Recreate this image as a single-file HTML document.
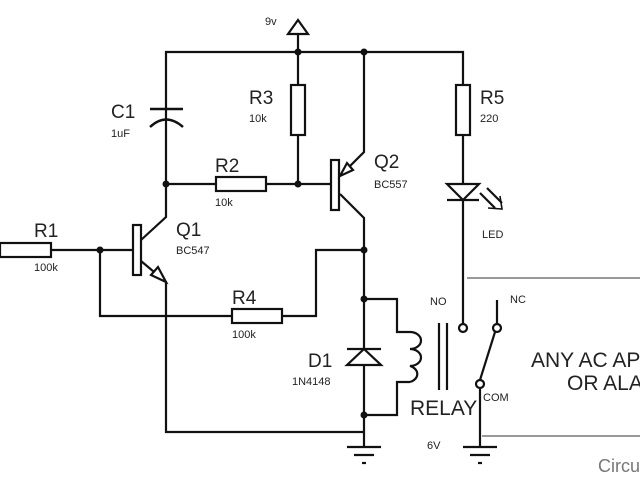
<!DOCTYPE html>
<html><head><meta charset="utf-8"><style>
body{margin:0;background:#fff}
svg{display:block}
text{font-family:"Liberation Sans",sans-serif;fill:#222}
</style></head><body>
<svg width="640" height="480" viewBox="0 0 640 480" xmlns="http://www.w3.org/2000/svg">
<g stroke="#111" stroke-width="2.2" fill="none">
<polyline points="166,184 166,52 463,52 463,85"/>
<line x1="298" y1="52" x2="298" y2="85"/>
<line x1="298" y1="135" x2="298" y2="184"/>
<line x1="298" y1="52" x2="298" y2="22"/>
<polygon points="298,20 288,34 308,34" fill="#fff"/>
<line x1="150" y1="109" x2="183" y2="109" stroke-width="2.5"/>
<path d="M150,127 Q166,112 183,127" stroke-width="2.5"/>
<rect x="291" y="85" width="14" height="50" fill="#fff"/>
<rect x="456" y="85" width="14" height="50" fill="#fff"/>
<line x1="166" y1="184" x2="215" y2="184"/>
<rect x="216" y="177" width="50" height="14" fill="#fff"/>
<line x1="266" y1="184" x2="331" y2="184"/>
<rect x="331" y="160" width="8" height="50" fill="#fff"/>
<polyline points="340,176 364,152 364,52"/>
<polygon points="340,176 347,163 353,170" fill="#fff"/>
<polyline points="340,194 364,218 364,447"/>
<line x1="463" y1="135" x2="463" y2="324"/>
<polygon points="447,184 479,184 463,200" fill="#fff"/>
<line x1="447" y1="200" x2="479" y2="200"/>
<line x1="480" y1="193" x2="495" y2="208"/>
<line x1="487" y1="188" x2="502" y2="203"/>
<polyline points="488,208 502,209 500,196" stroke-width="1.6"/>
<rect x="0" y="243" width="51" height="14" fill="#fff"/>
<line x1="51" y1="250" x2="133" y2="250"/>
<rect x="133" y="225" width="8" height="50" fill="#fff"/>
<polyline points="141,240 166,217 166,184"/>
<polyline points="141,261 166,282 166,432 364,432"/>
<polygon points="166,282 151,275 158,267" fill="#fff"/>
<polyline points="100,250 100,316 232,316"/>
<rect x="232" y="309" width="50" height="14" fill="#fff"/>
<polyline points="282,316 316,316 316,250 364,250"/>
<line x1="347" y1="349" x2="381" y2="349"/>
<polygon points="364,349 347,365 381,365" fill="#fff"/>
<polyline points="364,299 397,299 397,332 410,332"/>
<path d="M410,332 a11,8.5 0 0 1 0,17 a11,8.5 0 0 1 0,17 a11,8.5 0 0 1 0,16"/>
<polyline points="410,382 397,382 397,415 364,415"/>
<line x1="439" y1="323" x2="439" y2="390"/>
<line x1="447" y1="323" x2="447" y2="390"/>
<line x1="347" y1="447" x2="381" y2="447"/>
<line x1="354" y1="455" x2="374" y2="455"/>
<line x1="362" y1="463" x2="366" y2="463"/>
<line x1="463" y1="447" x2="497" y2="447"/>
<line x1="470" y1="455" x2="490" y2="455"/>
<line x1="478" y1="463" x2="482" y2="463"/>
<line x1="497" y1="300" x2="497" y2="324"/>
<line x1="480" y1="380" x2="495" y2="332"/>
<line x1="480" y1="388" x2="480" y2="447"/>
<circle cx="463" cy="328" r="4" fill="#fff"/>
<circle cx="497" cy="328" r="4" fill="#fff"/>
<circle cx="480" cy="384" r="4" fill="#fff"/>
</g>
<g fill="#111">
<circle cx="298" cy="52" r="3.5"/><circle cx="364" cy="52" r="3.5"/>
<circle cx="166" cy="184" r="3.5"/><circle cx="298" cy="184" r="3.5"/>
<circle cx="100" cy="250" r="3.5"/><circle cx="364" cy="250" r="3.5"/>
<circle cx="364" cy="299" r="3.5"/><circle cx="364" cy="415" r="3.5"/>
</g>
<g stroke="#999" stroke-width="2">
<line x1="467" y1="278" x2="640" y2="278"/>
<line x1="482" y1="436" x2="640" y2="436"/>
</g>
<g>
<text x="265" y="25" font-size="11">9v</text>
<text x="111" y="118" font-size="19">C1</text>
<text x="111" y="137" font-size="11">1uF</text>
<text x="249" y="104" font-size="19">R3</text>
<text x="249" y="122" font-size="11">10k</text>
<text x="215" y="172" font-size="19">R2</text>
<text x="215" y="206" font-size="11">10k</text>
<text x="176" y="236" font-size="19">Q1</text>
<text x="176" y="254" font-size="11">BC547</text>
<text x="34" y="237" font-size="19">R1</text>
<text x="34" y="271" font-size="11">100k</text>
<text x="374" y="168" font-size="19">Q2</text>
<text x="374" y="188" font-size="11">BC557</text>
<text x="480" y="104" font-size="19">R5</text>
<text x="480" y="122" font-size="11">220</text>
<text x="482" y="238" font-size="11">LED</text>
<text x="232" y="304" font-size="19">R4</text>
<text x="232" y="338" font-size="11">100k</text>
<text x="308" y="367" font-size="19">D1</text>
<text x="292" y="385" font-size="11">1N4148</text>
<text x="430" y="305" font-size="11">NO</text>
<text x="510" y="303" font-size="11">NC</text>
<text x="483" y="401" font-size="11">COM</text>
<text x="410" y="415" font-size="21">RELAY</text>
<text x="427" y="449" font-size="11">6V</text>
<text x="531" y="367" font-size="21">ANY AC AP</text>
<text x="567" y="390" font-size="21">OR ALA</text>
<text x="598" y="472" font-size="18" style="fill:#777">Circu</text>
</g>
</svg>
</body></html>
